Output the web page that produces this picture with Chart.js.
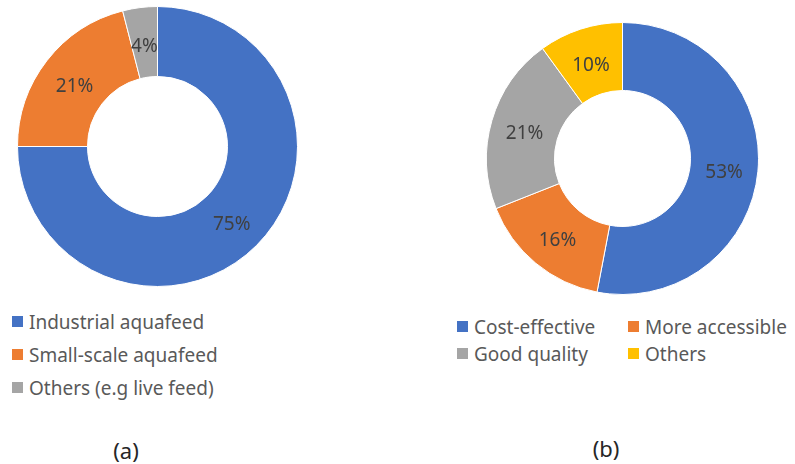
<!DOCTYPE html>
<html lang="en">
<head>
  <meta charset="UTF-8" />
  <title>Aquafeed survey</title>
  <script src="https://cdn.jsdelivr.net/npm/chart.js@4.4.1/dist/chart.umd.min.js"></script>
  <style>
    body {
      margin: 0;
      width: 795px;
      height: 464px;
      background: #fff;
      position: relative;
      overflow: hidden;
      font-family: 'Noto Sans', sans-serif;
    }
    canvas { position: absolute; }
    #feedChart { left: 16.5px; top: 5.5px; }
    #reasonChart { left: 486px; top: 21.5px; }
    .legend {
      position: absolute;
      color: #595959;
      font-size: 19px;
    }
    #feedLegend { left: 12px; top: 305px; }
    #feedLegend .item { height: 33px; }
    #reasonLegend {
      left: 457px; top: 313px;
      display: grid;
      grid-template-columns: 171px auto;
    }
    #reasonLegend .item { height: 27px; }
    .item { display: flex; align-items: center; white-space: nowrap; }
    .swatch { width: 11px; height: 11px; margin-right: 6px; flex: none; }
    .caption {
      position: absolute;
      font-size: 22px;
      color: #262626;
      transform: translate(-50%, -50%);
    }
  </style>
</head>
<body>
  <canvas id="feedChart" width="281" height="281"></canvas>
  <canvas id="reasonChart" width="273" height="273"></canvas>
  <div class="legend" id="feedLegend"></div>
  <div class="legend" id="reasonLegend"></div>
  <div class="caption" style="left:126px; top:450px;">(a)</div>
  <div class="caption" style="left:606px; top:448px;">(b)</div>

  <script>
    // (a) type of feed used
    const feedLabels = ['Industrial aquafeed', 'Small-scale aquafeed', 'Others (e.g live feed)'];
    const feedValues = [75, 21, 4];
    const feedColors = ['#4472C4', '#ED7D31', '#A5A5A5'];

    // (b) reason for choosing the feed
    const reasonLabels = ['Cost-effective', 'More accessible', 'Good quality', 'Others'];
    const reasonValues = [53, 16, 21, 10];
    const reasonColors = ['#4472C4', '#ED7D31', '#A5A5A5', '#FFC000'];

    // writes "NN%" in the middle of every ring segment
    const percentLabels = {
      id: 'percentLabels',
      afterDatasetsDraw(chart) {
        const ctx = chart.ctx;
        const ds = chart.data.datasets[0];
        ctx.save();
        ctx.font = '19px "Noto Sans", sans-serif';
        ctx.fillStyle = '#404040';
        ctx.textAlign = 'center';
        ctx.textBaseline = 'middle';
        chart.getDatasetMeta(0).data.forEach((arc, i) => {
          const p = arc.getCenterPoint();
          // digits sit high in the em box, nudge them down a bit
          ctx.fillText(ds.data[i] + '%', p.x, p.y + 4);
        });
        ctx.restore();
      }
    };

    function makeDoughnut(id, labels, values, colors) {
      return new Chart(document.getElementById(id), {
        type: 'doughnut',
        data: {
          labels: labels,
          datasets: [{
            data: values,
            backgroundColor: colors,
            borderColor: '#ffffff',
            borderWidth: 1,
            hoverOffset: 0
          }]
        },
        options: {
          responsive: false,
          animation: false,
          cutout: '50%',
          layout: { padding: 0 },
          plugins: {
            legend: { display: false },
            tooltip: { enabled: false }
          }
        },
        plugins: [percentLabels]
      });
    }

    function buildLegend(boxId, labels, colors) {
      const box = document.getElementById(boxId);
      labels.forEach((text, i) => {
        const item = document.createElement('div');
        item.className = 'item';
        const sw = document.createElement('span');
        sw.className = 'swatch';
        sw.style.background = colors[i];
        item.appendChild(sw);
        item.appendChild(document.createTextNode(text));
        box.appendChild(item);
      });
    }

    makeDoughnut('feedChart', feedLabels, feedValues, feedColors);
    makeDoughnut('reasonChart', reasonLabels, reasonValues, reasonColors);
    buildLegend('feedLegend', feedLabels, feedColors);
    buildLegend('reasonLegend', reasonLabels, reasonColors);
  </script>
</body>
</html>
